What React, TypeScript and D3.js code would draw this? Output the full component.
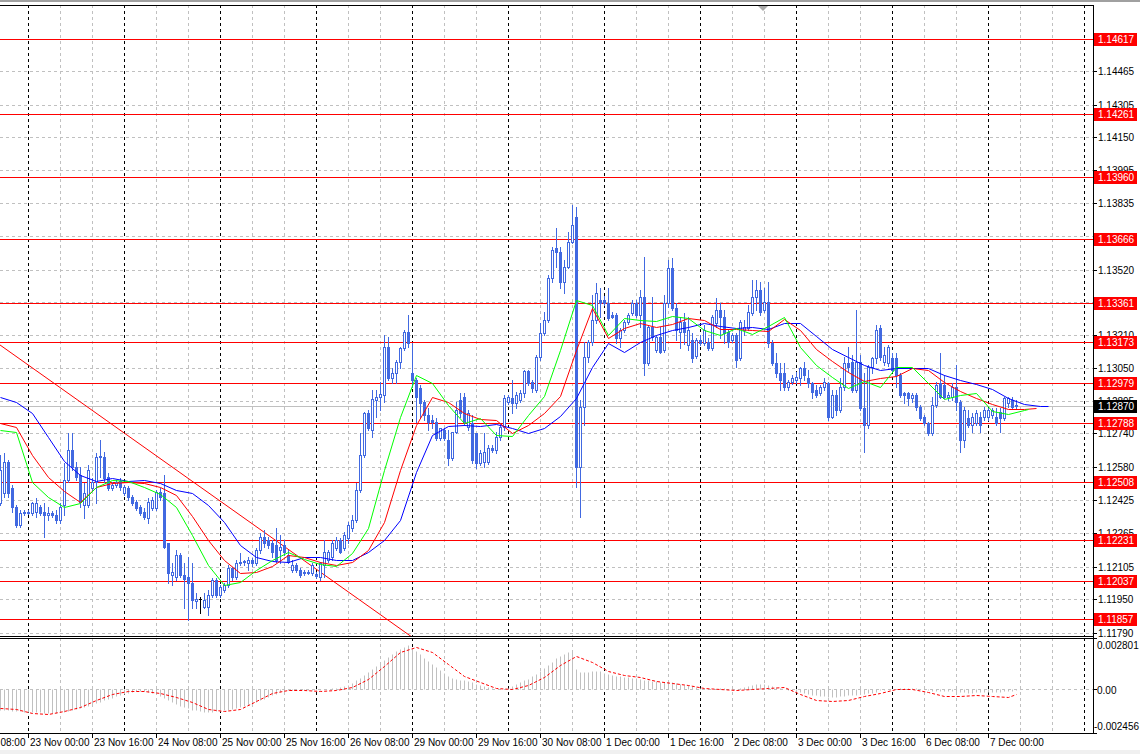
import React from 'react';
import * as d3 from 'd3';

// ---------- DATA (EURUSD H1, 22 Nov 17:00 .. 7 Dec 07:00) ----------
const open = [
1.12409,1.12457,1.12603,1.12480,1.12389,1.12304,1.12361,1.12365,1.12361,1.12365,
1.12389,1.12365,1.12352,1.12361,1.12352,1.12328,1.12399,1.12518,1.12661,1.12580,
1.12542,1.12399,1.12399,1.12480,1.12508,1.12627,1.12627,1.12532,1.12480,1.12494,
1.12513,1.12457,1.12480,1.12437,1.12413,1.12389,1.12365,1.12338,1.12385,1.12385,
1.12461,1.12457,1.12219,1.12066,1.12056,1.12161,1.12066,1.12056,1.12028,1.11942,
1.11952,1.11914,1.11914,1.11971,1.12042,1.11971,1.11995,1.12018,1.12099,1.12056,
1.12123,1.12128,1.12123,1.12137,1.12123,1.12185,1.12246,1.12233,1.12219,1.12209,
1.12185,1.12209,1.12161,1.12090,1.12114,1.12090,1.12080,1.12076,1.12076,1.12071,
1.12056,1.12114,1.12137,1.12152,1.12195,1.12233,1.12195,1.12242,1.12290,1.12328,
1.12471,1.12637,1.12837,1.12756,1.12899,1.12913,1.12923,1.13151,1.13004,1.13028,
1.13080,1.13146,1.13223,1.13028,1.12994,1.12956,1.12889,1.12828,1.12804,1.12794,
1.12718,1.12756,1.12709,1.12623,1.12747,1.12899,1.12913,1.12770,1.12790,1.12742,
1.12599,1.12603,1.12603,1.12670,1.12661,1.12723,1.12770,1.12889,1.12909,1.12885,
1.12899,1.12932,1.13037,1.12985,1.12947,1.13104,1.13218,1.13280,1.13480,1.13622,
1.13603,1.13461,1.13532,1.13651,1.13770,1.12580,1.12866,1.13104,1.13175,1.13280,
1.13375,1.13375,1.13361,1.13304,1.13304,1.13194,1.13232,1.13270,1.13313,1.13361,
1.13304,1.13389,1.13075,1.13246,1.13137,1.13199,1.13137,1.13361,1.13528,1.13337,
1.13223,1.13270,1.13161,1.13185,1.13108,1.13185,1.13170,1.13175,1.13146,1.13266,
1.13327,1.13294,1.13223,1.13185,1.13208,1.13099,1.13232,1.13242,1.13313,1.13389,
1.13423,1.13327,1.13366,1.13170,1.13075,1.13028,1.13028,1.12961,1.12985,1.12994,
1.13004,1.13051,1.13004,1.12980,1.12947,1.12932,1.12961,1.12980,1.12818,1.12923,
1.12851,1.12961,1.13075,1.13080,1.12947,1.13080,1.12861,1.12780,1.13056,1.13099,
1.13242,1.13080,1.13075,1.13099,1.13099,1.13018,1.12932,1.12932,1.12909,1.12923,
1.12866,1.12818,1.12790,1.12742,1.12875,1.12980,1.12970,1.12913,1.12913,1.12961,
1.12889,1.12709,1.12813,1.12780,1.12790,1.12818,1.12818,1.12818,1.12828,1.12818,
1.12842,1.12813,1.12885,1.12899,1.12875,
];
const high = [
1.12637,1.12647,1.12613,1.12494,1.12399,1.12375,1.12375,1.12375,1.12413,1.12433,
1.12399,1.12409,1.12389,1.12370,1.12375,1.12409,1.12599,1.12742,1.12742,1.12603,
1.12580,1.12504,1.12590,1.12528,1.12647,1.12709,1.12651,1.12552,1.12508,1.12518,
1.12528,1.12494,1.12489,1.12447,1.12423,1.12399,1.12385,1.12433,1.12437,1.12471,
1.12480,1.12542,1.12219,1.12123,1.12185,1.12171,1.12123,1.12152,1.12123,1.11981,
1.11961,1.11981,1.11995,1.12052,1.12052,1.12018,1.12028,1.12114,1.12104,1.12137,
1.12171,1.12137,1.12152,1.12147,1.12195,1.12266,1.12280,1.12246,1.12233,1.12290,
1.12256,1.12233,1.12185,1.12137,1.12123,1.12099,1.12090,1.12090,1.12123,1.12080,
1.12128,1.12233,1.12185,1.12233,1.12246,1.12242,1.12271,1.12318,1.12352,1.12504,
1.12742,1.12842,1.12851,1.12947,1.12947,1.12985,1.13208,1.13199,1.13051,1.13089,
1.13151,1.13232,1.13304,1.13170,1.13004,1.12970,1.12899,1.12861,1.12828,1.12813,
1.12766,1.12766,1.12756,1.12747,1.12889,1.12932,1.12932,1.12851,1.12828,1.12742,
1.12661,1.12742,1.12685,1.12685,1.12747,1.12790,1.12923,1.12923,1.12994,1.12937,
1.12947,1.13042,1.13042,1.12994,1.13113,1.13266,1.13318,1.13494,1.13627,1.13718,
1.13627,1.13565,1.13699,1.13827,1.13818,1.12899,1.13175,1.13185,1.13399,1.13456,
1.13432,1.13394,1.13432,1.13318,1.13313,1.13242,1.13280,1.13313,1.13375,1.13375,
1.13423,1.13580,1.13256,1.13389,1.13208,1.13246,1.13399,1.13565,1.13575,1.13361,
1.13294,1.13313,1.13294,1.13218,1.13194,1.13208,1.13256,1.13194,1.13304,1.13385,
1.13361,1.13327,1.13232,1.13218,1.13218,1.13280,1.13280,1.13351,1.13470,1.13470,
1.13461,1.13432,1.13461,1.13185,1.13123,1.13075,1.13075,1.12994,1.13018,1.13032,
1.13056,1.13080,1.13042,1.12985,1.12970,1.12970,1.13004,1.12985,1.12947,1.12947,
1.13004,1.13104,1.13151,1.13113,1.13327,1.13113,1.13028,1.13066,1.13104,1.13256,
1.13256,1.13151,1.13161,1.13123,1.13123,1.13028,1.12937,1.12937,1.12932,1.12932,
1.12875,1.12828,1.12794,1.12913,1.12985,1.13123,1.13018,1.12937,1.12980,1.13066,
1.12899,1.12866,1.12851,1.12837,1.12851,1.12842,1.12866,1.12861,1.12861,1.12861,
1.12861,1.12913,1.12913,1.12913,1.12899,
];
const low = [
1.12399,1.12437,1.12437,1.12365,1.12294,1.12294,1.12352,1.12356,1.12352,1.12342,
1.12352,1.12246,1.12328,1.12342,1.12314,1.12314,1.12352,1.12508,1.12566,1.12518,
1.12389,1.12338,1.12389,1.12471,1.12409,1.12532,1.12508,1.12471,1.12471,1.12485,
1.12471,1.12447,1.12423,1.12399,1.12375,1.12352,1.12333,1.12314,1.12375,1.12375,
1.12423,1.12195,1.12028,1.12018,1.12042,1.12056,1.11909,1.11852,1.11909,1.11909,
1.11885,1.11909,1.11876,1.11961,1.11961,1.11961,1.11985,1.12009,1.12042,1.12047,
1.12114,1.12114,1.12090,1.12109,1.12114,1.12171,1.12199,1.12195,1.12152,1.12128,
1.12123,1.12161,1.12123,1.12080,1.12080,1.12056,1.12066,1.12071,1.12066,1.12052,
1.12042,1.12056,1.12128,1.12137,1.12185,1.12171,1.12185,1.12219,1.12275,1.12318,
1.12461,1.12627,1.12756,1.12723,1.12818,1.12851,1.12889,1.12994,1.12980,1.12980,
1.13051,1.13137,1.13151,1.12961,1.12794,1.12813,1.12804,1.12756,1.12766,1.12709,
1.12709,1.12709,1.12590,1.12613,1.12742,1.12818,1.12780,1.12756,1.12599,1.12575,
1.12590,1.12580,1.12594,1.12651,1.12647,1.12709,1.12756,1.12880,1.12837,1.12861,
1.12889,1.12913,1.12970,1.12937,1.12937,1.13089,1.13208,1.13270,1.13461,1.13532,
1.13432,1.13408,1.13528,1.13646,1.12485,1.12342,1.12780,1.13080,1.13161,1.13266,
1.13294,1.13351,1.13280,1.13290,1.13170,1.13151,1.13223,1.13261,1.13304,1.13294,
1.13246,1.13018,1.13066,1.13185,1.13128,1.13123,1.13128,1.13342,1.13327,1.13185,
1.13146,1.13166,1.13137,1.13080,1.13099,1.13161,1.13161,1.13137,1.13137,1.13246,
1.13194,1.13170,1.13151,1.13175,1.13056,1.13089,1.13208,1.13232,1.13304,1.13327,
1.13304,1.13318,1.13151,1.13066,1.13009,1.12947,1.12947,1.12947,1.12975,1.12980,
1.12970,1.12994,1.12961,1.12909,1.12913,1.12923,1.12947,1.12804,1.12813,1.12828,
1.12842,1.12947,1.13032,1.12937,1.12937,1.12851,1.12652,1.12766,1.13028,1.13075,
1.13089,1.13066,1.13061,1.13032,1.12961,1.12913,1.12885,1.12875,1.12889,1.12851,
1.12804,1.12780,1.12732,1.12732,1.12866,1.12909,1.12909,1.12899,1.12899,1.12851,
1.12652,1.12675,1.12770,1.12747,1.12780,1.12747,1.12804,1.12804,1.12813,1.12780,
1.12747,1.12804,1.12866,1.12861,1.12861,
];
const close = [
1.12566,1.12603,1.12457,1.12389,1.12304,1.12361,1.12365,1.12361,1.12409,1.12409,
1.12361,1.12352,1.12361,1.12352,1.12328,1.12389,1.12518,1.12661,1.12580,1.12532,
1.12413,1.12457,1.12566,1.12508,1.12627,1.12632,1.12528,1.12480,1.12494,1.12508,
1.12485,1.12485,1.12437,1.12409,1.12385,1.12361,1.12342,1.12413,1.12423,1.12461,
1.12437,1.12199,1.12076,1.12080,1.12161,1.12066,1.12047,1.12028,1.11947,1.11952,
1.11952,1.11947,1.11971,1.12042,1.11971,1.12009,1.12018,1.12099,1.12056,1.12123,
1.12128,1.12133,1.12137,1.12123,1.12185,1.12246,1.12219,1.12209,1.12175,1.12137,
1.12199,1.12175,1.12128,1.12114,1.12090,1.12066,1.12076,1.12080,1.12114,1.12061,
1.12123,1.12175,1.12175,1.12219,1.12233,1.12175,1.12256,1.12304,1.12328,1.12471,
1.12637,1.12837,1.12766,1.12904,1.12913,1.12928,1.13151,1.13004,1.13028,1.13080,
1.13146,1.13223,1.13170,1.12994,1.12913,1.12885,1.12828,1.12794,1.12794,1.12718,
1.12766,1.12718,1.12623,1.12747,1.12851,1.12837,1.12794,1.12837,1.12613,1.12599,
1.12647,1.12651,1.12670,1.12661,1.12723,1.12770,1.12909,1.12913,1.12885,1.12923,
1.12932,1.13037,1.12980,1.12956,1.13104,1.13218,1.13280,1.13480,1.13613,1.13603,
1.13461,1.13532,1.13651,1.13732,1.12580,1.12866,1.13104,1.13175,1.13280,1.13408,
1.13361,1.13361,1.13290,1.13294,1.13194,1.13232,1.13270,1.13304,1.13361,1.13304,
1.13389,1.13075,1.13246,1.13199,1.13199,1.13128,1.13361,1.13528,1.13337,1.13232,
1.13270,1.13223,1.13232,1.13099,1.13185,1.13170,1.13232,1.13146,1.13294,1.13327,
1.13294,1.13218,1.13175,1.13208,1.13089,1.13270,1.13246,1.13318,1.13389,1.13423,
1.13318,1.13366,1.13170,1.13075,1.13028,1.12994,1.12961,1.12985,1.13004,1.13009,
1.13051,1.13018,1.12980,1.12937,1.12923,1.12961,1.12985,1.12818,1.12923,1.12851,
1.12961,1.13075,1.13056,1.12947,1.13080,1.12861,1.12780,1.13056,1.13099,1.13232,
1.13104,1.13113,1.13151,1.13042,1.13018,1.12923,1.12923,1.12909,1.12923,1.12866,
1.12813,1.12790,1.12742,1.12875,1.12970,1.12913,1.12913,1.12923,1.12961,1.12889,
1.12709,1.12851,1.12780,1.12818,1.12837,1.12780,1.12851,1.12851,1.12851,1.12790,
1.12813,1.12909,1.12909,1.12866,1.12870,
];

// Alligator lines, read every 4 bars (last entry = line end bar)
const jaw = [
1.12913,1.12889,1.12837,1.12723,1.12609,1.12542,1.12513,1.12528,1.12513,1.12518,
1.12504,1.12471,1.12457,1.12399,1.12318,1.12209,1.12152,1.12133,1.12128,1.12152,
1.12152,1.12137,1.12137,1.12175,1.12233,1.12328,1.12556,1.12732,1.12775,1.12780,
1.12775,1.12785,1.12766,1.12742,1.12766,1.12823,1.12909,1.13056,1.13170,1.13128,
1.13175,1.13208,1.13232,1.13246,1.13266,1.13251,1.13242,1.13246,1.13237,1.13266,
1.13266,1.13204,1.13142,1.13104,1.13066,1.13042,1.13051,1.13051,1.13051,1.13018,
1.12994,1.12975,1.12951,1.12909,1.12880,1.12870,1.12870,
];
const jawEnd = 262;
const teeth = [
1.12790,1.12770,1.12637,1.12532,1.12466,1.12413,1.12485,1.12504,1.12508,1.12504,
1.12485,1.12447,1.12347,1.12233,1.12137,1.12076,1.12080,1.12109,1.12161,1.12152,
1.12128,1.12114,1.12128,1.12185,1.12318,1.12566,1.12780,1.12913,1.12889,1.12837,
1.12808,1.12804,1.12742,1.12780,1.12837,1.12918,1.13137,1.13337,1.13194,1.13242,
1.13266,1.13246,1.13261,1.13290,1.13280,1.13237,1.13237,1.13232,1.13228,1.13285,
1.13232,1.13142,1.13085,1.13032,1.12990,1.13004,1.13013,1.13051,1.13042,1.12985,
1.12942,1.12909,1.12880,1.12856,1.12856,1.12861,
];
const teethEnd = 259;
const lips = [
1.12756,1.12747,1.12508,1.12437,1.12389,1.12409,1.12485,1.12518,1.12513,1.12485,
1.12452,1.12389,1.12256,1.12114,1.12018,1.12033,1.12090,1.12137,1.12175,1.12142,
1.12118,1.12109,1.12171,1.12290,1.12566,1.12818,1.13018,1.12980,1.12875,1.12790,
1.12813,1.12732,1.12728,1.12828,1.12918,1.13137,1.13375,1.13351,1.13208,1.13290,
1.13280,1.13275,1.13299,1.13290,1.13232,1.13208,1.13242,1.13213,1.13251,1.13294,
1.13151,1.13066,1.13009,1.12956,1.12990,1.12961,1.13056,1.13056,1.12980,1.12904,
1.12923,1.12932,1.12847,1.12832,1.12851,1.12856,
];
const lipsEnd = 257;

// MACD (12,26,9): histogram per bar, signal read every 4 bars
const macdHist = [
-0.00118,-0.00120,-0.00121,-0.00123,-0.00124,-0.00126,-0.00127,-0.00128,
-0.00130,-0.00131,-0.00132,-0.00133,-0.00134,-0.00134,-0.00133,-0.00131,
-0.00127,-0.00122,-0.00117,-0.00112,-0.00107,
-0.00101,-0.00094,-0.00087,-0.00080,-0.00073,-0.00065,-0.00057,-0.00050,-0.00042,-0.00035,-0.00028,
-0.00022,-0.00017,-0.00014,-0.00013,-0.00015,-0.00018,
-0.00024,-0.00031,-0.00039,-0.00050,-0.00063,-0.00075,-0.00086,-0.00095,-0.00103,-0.00110,-0.00116,-0.00121,-0.00125,
-0.00127,-0.00128,-0.00127,-0.00125,-0.00123,-0.00120,-0.00117,-0.00113,-0.00108,-0.00103,-0.00097,
-0.00090,-0.00082,-0.00074,-0.00065,-0.00056,-0.00047,-0.00038,-0.00029,-0.00021,-0.00014,
-0.00009,-0.00006,-0.00005,-0.00005,-0.00006,-0.00007,-0.00007,-0.00006,-0.00005,-0.00003,-0.00001,0.00002,0.00005,0.00009,0.00014,
0.00022,0.00032,0.00045,0.00060,0.00076,0.00093,0.00110,0.00127,0.00144,0.00161,0.00177,0.00192,0.00206,0.00219,0.00231,0.00240,
0.00225,0.00207,0.00189,0.00171,0.00155,0.00138,0.00122,0.00103,0.00085,0.00068,0.00060,0.00055,0.00050,0.00045,0.00040,0.00034,
0.00028,0.00022,0.00016,0.00010,0.00005,0.00000,-0.00003,-0.00004,
0.00005,0.00015,0.00025,0.00035,0.00045,0.00055,0.00068,0.00082,0.00097,0.00113,0.00130,0.00150,0.00168,0.00182,0.00193,0.00200,0.00205,
0.00110,0.00092,0.00090,0.00092,0.00095,0.00097,0.00096,
0.00085,0.00080,0.00076,0.00072,0.00068,0.00065,0.00062,0.00060,0.00058,0.00055,0.00048,0.00045,0.00042,0.00040,0.00038,0.00038,
0.00040,0.00038,0.00032,0.00026,0.00022,0.00018,0.00014,0.00010,0.00006,
0.00003,0.00000,-0.00002,0.00000,0.00002,0.00001,-0.00002,-0.00003,-0.00002,0.00002,
0.00008,0.00014,0.00020,0.00025,0.00027,0.00026,0.00022,0.00015,0.00008,0.00002,
-0.00003,-0.00008,-0.00012,-0.00016,-0.00020,
-0.00025,-0.00030,-0.00034,-0.00038,-0.00041,-0.00043,-0.00045,-0.00046,-0.00045,-0.00043,-0.00040,-0.00038,-0.00036,-0.00033,-0.00030,-0.00030,-0.00027,
-0.00022,-0.00016,-0.00010,-0.00007,-0.00004,-0.00002,0.00000,0.00002,
0.00004,0.00005,0.00004,0.00002,-0.00001,-0.00004,-0.00008,
-0.00012,-0.00013,-0.00013,-0.00014,-0.00014,-0.00015,-0.00016,-0.00019,-0.00021,-0.00022,-0.00022,
-0.00021,-0.00020,-0.00019,-0.00018,-0.00017,-0.00016,-0.00016,-0.00014,-0.00012,-0.00011,-0.00010,
];
const macdSignal = [
-0.00109,-0.00111,-0.00133,-0.00138,-0.00126,-0.00100,-0.00065,-0.00030,-0.00014,-0.00011,
-0.00022,-0.00047,-0.00072,-0.00111,-0.00122,-0.00111,-0.00066,-0.00022,-0.00006,-0.00008,
-0.00011,-0.00009,0.00007,0.00055,0.00127,0.00205,0.00232,0.00205,0.00138,0.00072,
0.00036,0.00006,-0.00003,0.00022,0.00066,0.00133,0.00179,0.00149,0.00100,0.00075,
0.00066,0.00044,0.00033,0.00022,0.00006,-0.00004,-0.00008,0.00000,0.00006,0.00008,
-0.00028,-0.00061,-0.00069,-0.00064,-0.00039,-0.00022,-0.00003,0.00000,-0.00017,-0.00039,
-0.00040,-0.00038,-0.00041,-0.00044,-0.00028,
];
const signalEnd = 254;
const macdMax = 0.002801;
const macdMin = -0.002456;

// Horizontal levels, price axis, current price, trend line
const levels = [1.14617,1.14261,1.13960,1.13666,1.13361,1.13173,1.12979,1.12788,1.12508,1.12231,1.12037,1.11857];
const priceTicks = [1.14465,1.14305,1.14150,1.13995,1.13835,1.13680,1.13520,1.13365,1.13210,1.13050,1.12895,1.12740,1.12580,1.12425,1.12265,1.12105,1.11950,1.11790];
const currentPrice = 1.12870;
const trendBars = [0, 103];
const trendPrices = [1.13161, 1.11771];

// Time axis
const timeLabels = ['22 Nov 08:00','23 Nov 00:00','23 Nov 16:00','24 Nov 08:00','25 Nov 00:00','25 Nov 16:00','26 Nov 08:00','29 Nov 00:00','29 Nov 16:00','30 Nov 08:00','1 Dec 00:00','1 Dec 16:00','2 Dec 08:00','3 Dec 00:00','3 Dec 16:00','6 Dec 08:00','7 Dec 00:00'];
const timeLabelBars = [-9,7,23,39,55,71,87,103,119,135,151,167,183,199,215,231,247];
const daySeparatorBars = [7,31,55,79,103,127,151,175,199,223,247,271];

// ---------- LAYOUT ----------
const W = 1140, H = 754;
const RIGHT = 1093, TOP = 5, MAIN_BOTTOM = 636, IND_TOP = 638, IND_BOTTOM = 733;
const FONT = '"Liberation Sans", Arial, sans-serif';
const CANDLE = '#4169E1';
const SILVER = '#C0C0C0';

export default function App() {
  const x = d3.scaleLinear().domain([0, 254]).range([0, 1016]);
  const y = d3.scaleLinear().domain([1.11857, 1.14617]).range([619, 39]);
  const ym = d3.scaleLinear().domain([macdMin, macdMax]).range([IND_BOTTOM, IND_TOP]);
  const sx = (b: number) => Math.round(x(b));
  const sy = (p: number) => Math.round(y(p));

  const sampleBars = (n: number, end: number) => d3.range(n - 1).map((k) => k * 4).concat([end]);
  const path = (vals: number[], end: number, scale: (v: number) => number) => {
    const bars = sampleBars(vals.length, end);
    return d3.line<number>().x((_, k) => x(bars[k]) + 0.5).y((v) => Math.round(scale(v)) + 0.5)(vals) || '';
  };

  const daySet = new Set(daySeparatorBars);
  const gridBars = d3.range(-1, 36).map((k) => 7 + 8 * k).filter((b) => x(b) >= 0 && x(b) < RIGHT);
  const labelBoxes = levels.concat([currentPrice]).map((p) => sy(p));
  // tick labels entirely covered by a level label box are not visible (as in MT4)
  const visibleTick = (t: number) => labelBoxes.every((yy) => Math.abs(yy - sy(t)) > 4);

  const candles = open.map((o, i) => {
    const c = close[i];
    const cx = sx(i);
    const hi = sy(high[i]);
    const lo = sy(low[i]);
    const top = sy(Math.max(o, c));
    const bot = sy(Math.min(o, c));
    if (o === c) {
      return (
        <g key={i} stroke="#000">
          <line x1={cx + 0.5} x2={cx + 0.5} y1={hi} y2={lo + 1} />
          <line x1={cx - 1} x2={cx + 2} y1={top + 0.5} y2={top + 0.5} />
        </g>
      );
    }
    const bull = c > o;
    return (
      <g key={i}>
        <line x1={cx + 0.5} x2={cx + 0.5} y1={hi} y2={lo + 1} stroke={CANDLE} />
        {bull ? (
          <rect x={cx - 0.5} y={top + 0.5} width={2} height={Math.max(bot - top, 1)} fill="#fff" stroke={CANDLE} />
        ) : (
          <rect x={cx - 1} y={top} width={3} height={Math.max(bot - top + 1, 1)} fill={CANDLE} />
        )}
      </g>
    );
  });

  const zeroY = Math.round(ym(0)) + 0.5;

  const redLabel = (p: number, fill: string, key: string) => {
    const yy = sy(p);
    return (
      <g key={key}>
        <rect x={1094} y={yy - 6} width={43} height={13} fill={fill} />
        <text x={1098} y={yy + 4} fill="#fff" fontSize={10} fontFamily={FONT}>{p.toFixed(5)}</text>
      </g>
    );
  };

  return (
    <svg width={W} height={H} style={{ position: 'absolute', left: 0, top: 0, background: '#fff' }}>
      <defs>
        <clipPath id="mainClip"><rect x={0} y={TOP} width={RIGHT} height={MAIN_BOTTOM - TOP} /></clipPath>
        <clipPath id="indClip"><rect x={0} y={IND_TOP} width={RIGHT} height={IND_BOTTOM - IND_TOP} /></clipPath>
      </defs>
      <rect x={0} y={0} width={W} height={H} fill="#fff" />
      <rect x={0} y={0} width={W} height={2} fill="#A0A0A0" />
      <rect x={0} y={750} width={W} height={4} fill="#F0F0F0" />

      {/* main pane grid */}
      <g clipPath="url(#mainClip)">
        {priceTicks.map((t) => (
          <line key={'h' + t} x1={0} x2={RIGHT} y1={sy(t) + 0.5} y2={sy(t) + 0.5} stroke={SILVER} strokeDasharray="3,3" />
        ))}
        {gridBars.map((b) => (
          <line key={'v' + b} x1={sx(b) + 0.5} x2={sx(b) + 0.5} y1={TOP} y2={MAIN_BOTTOM}
            stroke={daySet.has(b) ? '#000' : SILVER} strokeDasharray="3,3" />
        ))}
        {levels.map((p) => (
          <line key={'l' + p} x1={0} x2={RIGHT} y1={sy(p) + 0.5} y2={sy(p) + 0.5} stroke="#FF0000" />
        ))}
        <line x1={0} x2={RIGHT} y1={sy(currentPrice) + 0.5} y2={sy(currentPrice) + 0.5} stroke={SILVER} />
        <line x1={x(trendBars[0])} y1={y(trendPrices[0])} x2={x(trendBars[1])} y2={y(trendPrices[1])} stroke="#FF0000" />
        {candles}
        <path d={path(jaw, jawEnd, y)} fill="none" stroke="#0000FF" />
        <path d={path(teeth, teethEnd, y)} fill="none" stroke="#FF0000" />
        <path d={path(lips, lipsEnd, y)} fill="none" stroke="#00FF00" />
      </g>

      {/* indicator pane */}
      <g clipPath="url(#indClip)">
        {gridBars.map((b) => (
          <line key={'vi' + b} x1={sx(b) + 0.5} x2={sx(b) + 0.5} y1={IND_TOP} y2={IND_BOTTOM}
            stroke={daySet.has(b) ? '#000' : SILVER} strokeDasharray="3,3" />
        ))}
        <line x1={0} x2={RIGHT} y1={zeroY} y2={zeroY} stroke={SILVER} strokeDasharray="3,3" />
        {macdHist.map((v, i) => (
          <line key={'m' + i} x1={sx(i) + 0.5} x2={sx(i) + 0.5} y1={zeroY} y2={Math.round(ym(v)) + 0.5} stroke={SILVER} />
        ))}
        <path d={path(macdSignal, signalEnd, ym)} fill="none" stroke="#FF0000" strokeDasharray="3,2" />
      </g>

      {/* frames */}
      <g stroke="#000" fill="none">
        <line x1={0} x2={RIGHT + 0.5} y1={TOP + 0.5} y2={TOP + 0.5} />
        <line x1={0} x2={RIGHT + 0.5} y1={MAIN_BOTTOM + 0.5} y2={MAIN_BOTTOM + 0.5} />
        <line x1={0} x2={RIGHT + 0.5} y1={IND_TOP + 0.5} y2={IND_TOP + 0.5} />
        <line x1={0} x2={RIGHT + 0.5} y1={IND_BOTTOM + 0.5} y2={IND_BOTTOM + 0.5} />
        <line x1={RIGHT + 0.5} x2={RIGHT + 0.5} y1={TOP} y2={IND_BOTTOM + 1} />
      </g>
      <polygon points="758,6 768,6 763,11" fill="#A9A9A9" />

      {/* price axis */}
      {priceTicks.map((t) => (
        <g key={'pt' + t}>
          <line x1={RIGHT} x2={RIGHT + 4} y1={sy(t) + 0.5} y2={sy(t) + 0.5} stroke="#000" />
          {visibleTick(t) && (
            <text x={1098} y={sy(t) + 4} fontSize={10} fontFamily={FONT} fill="#000">{t.toFixed(5)}</text>
          )}
        </g>
      ))}
      {levels.map((p) => redLabel(p, '#FF0000', 'rl' + p))}
      {redLabel(currentPrice, '#000', 'cur')}

      {/* MACD axis */}
      {[macdMax, 0, macdMin].map((v) => (
        <line key={'mt' + v} x1={RIGHT} x2={RIGHT + 4} y1={Math.round(ym(v)) + 0.5} y2={Math.round(ym(v)) + 0.5} stroke="#000" />
      ))}
      <text x={1097} y={Math.round(ym(macdMax)) + 11} fontSize={10} fontFamily={FONT}>{macdMax.toFixed(6)}</text>
      <text x={1097} y={zeroY + 4} fontSize={10} fontFamily={FONT}>0.00</text>
      <text x={1094} y={Math.round(ym(macdMin)) - 3} fontSize={10} fontFamily={FONT}>{macdMin.toFixed(6)}</text>

      {/* time axis */}
      {timeLabels.map((lab, k) => {
        const tx = sx(timeLabelBars[k]);
        return (
          <g key={'t' + k}>
            <line x1={tx + 0.5} x2={tx + 0.5} y1={IND_BOTTOM} y2={IND_BOTTOM + 5} stroke="#000" />
            <text x={tx + 2} y={746} fontSize={10} fontFamily={FONT} fill="#000">{lab}</text>
          </g>
        );
      })}
    </svg>
  );
}
